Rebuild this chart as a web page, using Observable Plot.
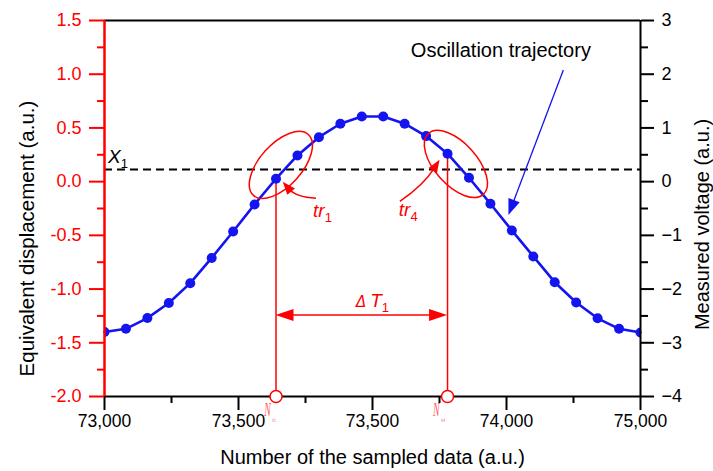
<!DOCTYPE html>
<html><head><meta charset="utf-8">
<script src="https://cdn.jsdelivr.net/npm/d3@7"></script>
<script src="https://cdn.jsdelivr.net/npm/@observablehq/plot@0.6"></script>
<style>body{margin:0;background:#fff} #chart svg{display:block}</style>
</head><body><div id="chart"></div>
<script>
// ---- data ----
const sampleNumber = [73000, 73080, 73160, 73240, 73320, 73400, 73480, 73560, 73640, 73720, 73800, 73880, 73960,
  74040, 74120, 74200, 74280, 74360, 74440, 74520, 74600, 74680, 74760, 74840, 74920, 75000];
const displacement = [-1.40, -1.37, -1.27, -1.13, -0.945, -0.71, -0.464, -0.212, 0.027, 0.244, 0.414, 0.539, 0.607,
  0.607, 0.539, 0.424, 0.26, 0.036, -0.206, -0.454, -0.696, -0.936, -1.125, -1.272, -1.37, -1.405];
const thresholdX1 = 0.114;
const crossingSamples = [73640, 74280];
const crossingValues = [0.027, 0.26];
const deltaArrowY = -1.246;

const xTicks = [73000, 73500, 74000, 74500, 75000];
const xTickLabels = ["73,000", "73,500", "73,500", "74,000", "75,000"];
const xMinorTicks = [73250, 73750, 74250, 74750];
const yTicks = [-2, -1.5, -1, -0.5, 0, 0.5, 1, 1.5];
const yTickLabels = ["-2.0", "-1.5", "-1.0", "-0.5", "0.0", "0.5", "1.0", "1.5"];
const y2TickLabels = ["\u22124", "\u22123", "\u22122", "\u22121", "0", "1", "2", "3"];
const yMinorTicks = [-1.75, -1.25, -0.75, -0.25, 0.25, 0.75, 1.25];

const xTitle = "Number of the sampled data (a.u.)";
const yTitle = "Equivalent displacement (a.u.)";
const y2Title = "Measured voltage (a.u.)";

// annotation anchors (data coordinates)
const ellipseCenters = [{x: 73660, y: 0.151, angle: -48}, {x: 74313, y: 0.16, angle: 48}];
const curvedArrows = [
  {x1: 73791, y1: -0.159, x2: 73667, y2: -0.005, bend: -8},
  {x1: 74104, y1: -0.189, x2: 74252, y2: 0.20, bend: 6}
];
const blueArrow = {x1: 74714, y1: 1.035, x2: 74509, y2: -0.315};
const trLabels = [{x: 73780, y: -0.333, main: "tr", sub: "1"}, {x: 74100, y: -0.324, main: "tr", sub: "4"}];
const x1Label = {x: 73015, y: 0.165, main: "X", sub: "1"};
const deltaLabel = {x: 73940, y: -1.169};
const nLabels = [{x: 73598, y: -2.19, sub: "tr1"}, {x: 74228, y: -2.19, sub: "tr4"}];
const trajectoryLabel = {x: 74479, y: 1.222, text: "Oscillation trajectory"};

// ---- drawing ----
const RED = "#ff0000", BLUE = "#1414f0";
const FONT = "'Liberation Sans', Arial, sans-serif";
const points = sampleNumber.map((s, i) => ({x: s, y: displacement[i]}));
const crossings = crossingSamples.map((s, i) => ({x: s, y: crossingValues[i]}));

function head(g, tx, ty, fx, fy, len, hw, color) {
  const dx = tx - fx, dy = ty - fy, L = Math.hypot(dx, dy);
  const ux = dx / L, uy = dy / L;
  const bx = tx - ux * len, by = ty - uy * len;
  g.append("polygon")
    .attr("points", `${tx},${ty} ${bx - uy * hw},${by + ux * hw} ${bx + uy * hw},${by - ux * hw}`)
    .attr("fill", color);
}

function annotations(index, scales) {
  const x = scales.x, y = scales.y;
  const g = d3.create("svg:g").attr("text-anchor", "start");
  for (const e of ellipseCenters) {
    const cx = x(e.x), cy = y(e.y);
    g.append("ellipse").attr("cx", cx).attr("cy", cy).attr("rx", 41).attr("ry", 21)
      .attr("transform", `rotate(${e.angle} ${cx} ${cy})`)
      .attr("fill", "none").attr("stroke", RED).attr("stroke-width", 1.5);
  }
  for (const a of curvedArrows) {
    const x1 = x(a.x1), y1 = y(a.y1), x2 = x(a.x2), y2 = y(a.y2);
    const mx = (x1 + x2) / 2, my = (y1 + y2) / 2;
    const L = Math.hypot(x2 - x1, y2 - y1);
    const px = -(y2 - y1) / L, py = (x2 - x1) / L;
    const cx = mx + px * a.bend, cy = my + py * a.bend;
    const d2 = Math.hypot(x2 - cx, y2 - cy);
    const hx = x2 - (x2 - cx) / d2 * 10, hy = y2 - (y2 - cy) / d2 * 10;
    g.append("path").attr("d", `M${x1},${y1} Q${cx},${cy} ${hx},${hy}`)
      .attr("fill", "none").attr("stroke", RED).attr("stroke-width", 1.5);
    head(g, x2, y2, cx, cy, 13, 5, RED);
  }
  {
    const x1 = x(blueArrow.x1), y1 = y(blueArrow.y1), x2 = x(blueArrow.x2), y2 = y(blueArrow.y2);
    const L = Math.hypot(x2 - x1, y2 - y1);
    g.append("line").attr("x1", x1).attr("y1", y1)
      .attr("x2", x2 - (x2 - x1) / L * 12).attr("y2", y2 - (y2 - y1) / L * 12)
      .attr("stroke", BLUE).attr("stroke-width", 1.3);
    head(g, x2, y2, x1, y1, 16, 6, BLUE);
  }
  {
    const xa = x(crossingSamples[0]), xb = x(crossingSamples[1]), ya = y(deltaArrowY);
    g.append("line").attr("x1", xa + 15).attr("x2", xb - 15).attr("y1", ya).attr("y2", ya)
      .attr("stroke", RED).attr("stroke-width", 1.5);
    head(g, xa, ya, xb, ya, 18, 6, RED);
    head(g, xb, ya, xa, ya, 18, 6, RED);
  }
  for (const t of trLabels) {
    const tx = g.append("text").attr("x", x(t.x)).attr("y", y(t.y)).attr("fill", RED)
      .attr("font-family", FONT).attr("text-anchor", "start");
    tx.append("tspan").attr("font-style", "italic").attr("font-size", 19).text(t.main);
    tx.append("tspan").attr("font-size", 13).attr("dy", 5).text(t.sub);
  }
  {
    const tx = g.append("text").attr("x", x(x1Label.x)).attr("y", y(x1Label.y)).attr("fill", "black")
      .attr("font-family", FONT).attr("text-anchor", "start");
    tx.append("tspan").attr("font-style", "italic").attr("font-size", 19).text(x1Label.main);
    tx.append("tspan").attr("font-size", 13).attr("dy", 5).text(x1Label.sub);
  }
  {
    const tx = g.append("text").attr("x", x(deltaLabel.x)).attr("y", y(deltaLabel.y)).attr("fill", RED)
      .attr("font-family", FONT).attr("text-anchor", "start");
    tx.append("tspan").attr("font-style", "italic").attr("font-size", 15).attr("font-family", "'DejaVu Sans'").attr("font-weight", 200).text("\u0394");
    tx.append("tspan").attr("font-style", "italic").attr("font-size", 19).attr("dx", 4).text("T");
    tx.append("tspan").attr("font-size", 13).attr("dy", 5).text("1");
  }
  for (const n of nLabels) {
    const px = x(n.x), py = y(n.y);
    const tx = g.append("text").attr("transform", `translate(${px},${py}) scale(0.7,1.3)`)
      .attr("fill", "#ff5a5a").attr("font-family", "'Liberation Serif', serif").attr("text-anchor", "start");
    tx.append("tspan").attr("font-style", "italic").attr("font-size", 14).text("N");
    tx.append("tspan").attr("font-size", 5).attr("dy", 4).attr("dx", 2).text(n.sub);
  }
  return g.node();
}

const chart = Plot.plot({
  width: 713,
  height: 471,
  marginLeft: 104,
  marginRight: 73,
  marginTop: 20,
  marginBottom: 75,
  style: {background: "white", fontFamily: FONT, overflow: "visible", color: "black"},
  x: {domain: [73000, 75000]},
  y: {domain: [-2, 1.5]},
  marks: [
    Plot.ruleY([thresholdX1], {stroke: "black", strokeWidth: 2, strokeDasharray: "8,5"}),
    Plot.ruleX(crossings, {x: "x", y1: () => -2, y2: "y", stroke: RED, strokeWidth: 1.5}),
    Plot.line(points, {x: "x", y: "y", stroke: BLUE, strokeWidth: 2.6}),
    Plot.dot(points, {x: "x", y: "y", r: 5, fill: BLUE, clip: true}),
    annotations,
    Plot.ruleY([1.5], {stroke: "black", strokeWidth: 2}),
    Plot.ruleY([-2], {stroke: "black", strokeWidth: 2}),
    Plot.ruleX([75000], {stroke: "black", strokeWidth: 2}),
    Plot.ruleX([73000], {stroke: RED, strokeWidth: 2.5}),
    Plot.dot(crossings, {x: "x", y: () => -2, r: 6, stroke: RED, strokeWidth: 1.5, fill: "white"}),
    Plot.axisX({ticks: xTicks, tickFormat: d => xTickLabels[xTicks.indexOf(d)], tickSize: 14, tickPadding: 4,
      strokeWidth: 2, fontSize: 17.5, label: null, color: "black"}),
    Plot.axisX({ticks: xMinorTicks, tickFormat: () => "", tickSize: 7, strokeWidth: 2, label: null, color: "black"}),
    Plot.axisY({anchor: "left", ticks: yTicks, tickFormat: d => yTickLabels[yTicks.indexOf(d)], tickSize: 15,
      tickPadding: 8, strokeWidth: 2, fontSize: 18, label: null, color: RED}),
    Plot.axisY({anchor: "left", ticks: yMinorTicks, tickFormat: () => "", tickSize: 7, strokeWidth: 2, label: null, color: RED}),
    Plot.axisY({anchor: "right", ticks: yTicks, tickFormat: d => y2TickLabels[yTicks.indexOf(d)], tickSize: 13,
      tickPadding: 8, strokeWidth: 2, fontSize: 18, label: null, color: "black"}),
    Plot.axisY({anchor: "right", ticks: yMinorTicks, tickFormat: () => "", tickSize: 7, strokeWidth: 2, label: null, color: "black"}),
    Plot.text([xTitle], {text: d => d, frameAnchor: "bottom", dy: 61, fontSize: 20, fill: "black", lineAnchor: "middle"}),
    Plot.text([yTitle], {text: d => d, frameAnchor: "left", dx: -77, dy: 30, rotate: -90, fontSize: 20.5, fill: "black", textAnchor: "middle", lineAnchor: "middle"}),
    Plot.text([y2Title], {text: d => d, frameAnchor: "right", dx: 62, dy: 16, rotate: -90, fontSize: 20, fill: "black", textAnchor: "middle", lineAnchor: "middle"}),
    Plot.text([trajectoryLabel], {x: "x", y: "y", text: "text", fontSize: 20, fill: "black", lineAnchor: "middle"})
  ]
});
document.getElementById("chart").appendChild(chart);
</script>
</body></html>
